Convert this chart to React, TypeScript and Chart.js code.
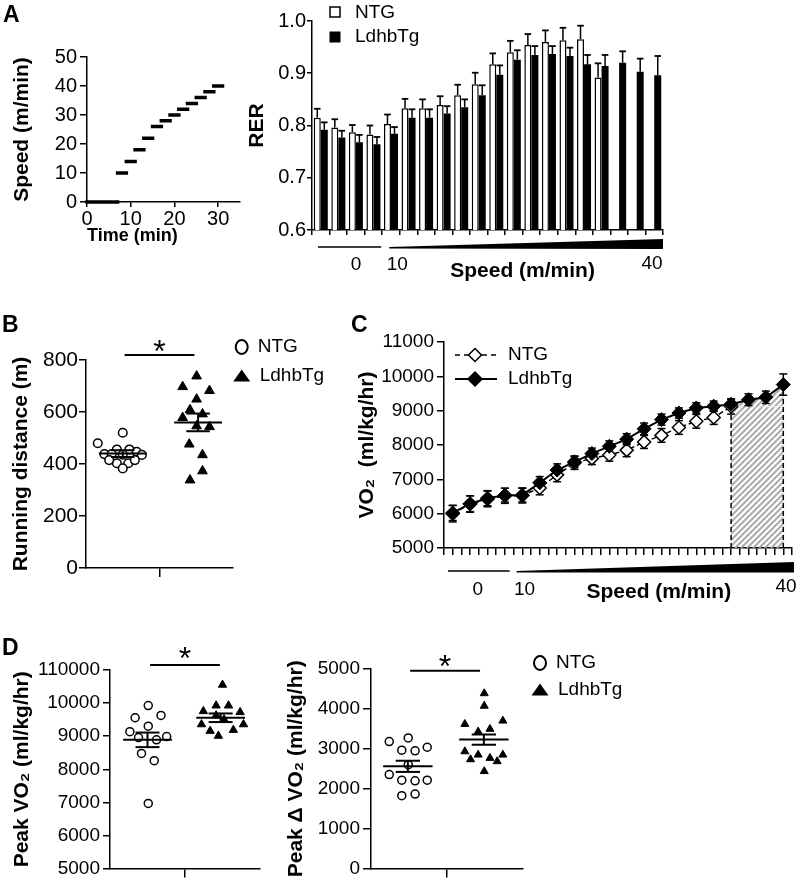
import React, { useEffect, useRef } from 'react';
import { Chart, registerables } from 'chart.js';

Chart.register(...registerables);

const W = 800;
const H = 883;
const FAMILY = "'Liberation Sans', Arial, Helvetica, sans-serif";
Chart.defaults.font.family = FAMILY;
Chart.defaults.color = '#000';
const TITLE_FONT = { family: FAMILY, size: 21, weight: 'bold' as const };

// ---------- Panel A (left): treadmill protocol ----------
const timeTicks = [0, 10, 20, 30];
const speedTicks = [0, 10, 20, 30, 40, 50];
const stageStart = [0, 7, 9, 11, 13, 15, 17, 19, 21, 23, 25, 27, 29];
const stageEnd = [7, 9, 11, 13, 15, 17, 19, 21, 23, 25, 27, 29, 31];
const stageSpeed = [0, 10, 14, 18, 22, 26, 28, 30, 32, 34, 36, 38, 40];

// ---------- Panel A (right): RER ----------
const rerStages = ['R1', 'R2', 'R3', 'R4', 'S1', 'S2', 'S3', 'S4', 'S5', 'S6', 'S7', 'S8', 'S9', 'S10', 'S11', 'S12', 'S13', 'S14', 'S15', 'S16'];
const rerNTG = [0.815, 0.796, 0.787, 0.783, 0.803, 0.833, 0.833, 0.839, 0.858, 0.879, 0.917, 0.94, 0.954, 0.96, 0.963, 0.965, 0.892, null, null, null];
const rerNTGErr = [0.017, 0.016, 0.014, 0.017, 0.018, 0.018, 0.017, 0.017, 0.02, 0.022, 0.021, 0.022, 0.021, 0.022, 0.024, 0.026, 0.027, null, null, null];
const rerTg = [0.792, 0.777, 0.768, 0.764, 0.784, 0.815, 0.815, 0.823, 0.835, 0.858, 0.897, 0.926, 0.935, 0.937, 0.933, 0.917, 0.914, 0.92, 0.903, 0.896];
const rerTgErr = [0.014, 0.013, 0.014, 0.014, 0.013, 0.016, 0.016, 0.014, 0.015, 0.019, 0.018, 0.018, 0.017, 0.015, 0.016, 0.018, 0.021, 0.022, 0.025, 0.037];
const rerTicks = [0.6, 0.7, 0.8, 0.9, 1.0];

// ---------- Panel B: running distance ----------
const distTicks = [0, 200, 400, 600, 800];
const distNTG = [480, 520, 438, 456, 456, 447, 438, 436, 435, 403, 403, 383, 415, 415];
const distNTGX = [0.32, 1.0, 0.5, 0.84, 1.18, 1.38, 0.7, 1.0, 1.52, 0.84, 1.15, 1.0, 1.33, 0.63];
const distTg = [738, 697, 682, 649, 608, 578, 592, 546, 543, 476, 435, 373, 338];
const distTgX = [3.01, 2.63, 3.36, 3.01, 2.83, 2.63, 3.17, 3.01, 3.36, 2.81, 3.17, 3.17, 2.83];
const distGroupX = [1.0, 3.05];
const distMean = [440, 560];
const distSem = [13, 34];

// ---------- Panel C: VO2 during exercise ----------
const vo2Ticks = [5000, 6000, 7000, 8000, 9000, 10000, 11000];
const vo2StageTicks = Array.from({ length: 41 }, (_, i) => i * 0.5);
const vo2NTG = [6000, 6280, 6430, 6520, 6530, 6750, 7130, 7480, 7610, 7710, 7850, 8090, 8280, 8510, 8690, 8800, 9120];
const vo2NTGErr = [240, 240, 230, 220, 220, 200, 200, 190, 180, 180, 190, 190, 200, 200, 200, 200, 220];
const vo2Tg = [6020, 6290, 6450, 6540, 6540, 6900, 7270, 7510, 7750, 7960, 8170, 8470, 8740, 8930, 9080, 9130, 9190, 9320, 9390, 9760];
const vo2TgErr = [220, 230, 220, 200, 200, 180, 180, 170, 160, 160, 160, 170, 160, 150, 150, 150, 150, 170, 180, 310];

// ---------- Panel D: peak VO2 and peak delta VO2 ----------
const peakTicks = [5000, 6000, 7000, 8000, 9000, 10000, 11000];
const peakTickLabels = ['5000', '6000', '7000', '8000', '9000', '10000', '110000'];
const peakNTG = [9925, 9557, 9627, 9137, 9304, 8960, 8990, 8890, 8480, 8260, 6970];
const peakNTGX = [1.02, 0.67, 1.36, 0.53, 1.02, 0.76, 1.51, 1.24, 0.84, 1.18, 1.02];
const peakTg = [10552, 9925, 9925, 9755, 9627, 9725, 9507, 9358, 9358, 9158, 9188, 9010];
const peakTgX = [3.0, 2.83, 3.16, 2.49, 2.83, 3.47, 3.04, 2.44, 3.56, 2.67, 3.29, 2.89];
const peakGroupX = [1.0, 2.95];
const peakMean = [8890, 9557];
const peakSem = [220, 130];

const deltaTicks = [0, 1000, 2000, 3000, 4000, 5000];
const deltaNTG = [3182, 3273, 2967, 2950, 3040, 2603, 2355, 2215, 2200, 2215, 1827, 1867];
const deltaNTGX = [0.48, 0.98, 0.81, 1.16, 1.48, 0.98, 0.48, 0.81, 1.16, 1.48, 0.81, 1.16];
const deltaTg = [4389, 4075, 3620, 3703, 3430, 3496, 2934, 2735, 2851, 2769, 2686, 2851, 2438];
const deltaTgX = [2.98, 2.98, 2.47, 3.47, 2.82, 3.13, 2.47, 2.62, 2.82, 3.13, 3.32, 3.47, 2.98];
const deltaGroupX = [0.97, 2.97];
const deltaMean = [2562, 3231];
const deltaSem = [140, 128];

// ---------- drawing helpers ----------
function seg(ctx: any, x1: number, y1: number, x2: number, y2: number, w = 1.5, color = '#000', dash: number[] = []) {
  ctx.save();
  ctx.beginPath();
  ctx.setLineDash(dash);
  ctx.lineWidth = w;
  ctx.strokeStyle = color;
  ctx.moveTo(x1, y1);
  ctx.lineTo(x2, y2);
  ctx.stroke();
  ctx.restore();
}

function text(ctx: any, s: string, x: number, y: number, size: number, bold = false, align = 'left', baseline = 'middle') {
  ctx.save();
  ctx.font = `${bold ? 'bold ' : ''}${size}px ${FAMILY}`;
  ctx.fillStyle = '#000';
  ctx.textAlign = align;
  ctx.textBaseline = baseline;
  ctx.fillText(s, x, y);
  ctx.restore();
}

function star(ctx: any, x: number, yCenter: number) {
  const size = 32;
  text(ctx, '*', x, yCenter + 0.6 * size, size, false, 'center', 'alphabetic');
}

function diamond(ctx: any, x: number, y: number, r: number, filled: boolean) {
  ctx.save();
  ctx.beginPath();
  ctx.moveTo(x - r, y);
  ctx.lineTo(x, y - r);
  ctx.lineTo(x + r, y);
  ctx.lineTo(x, y + r);
  ctx.closePath();
  ctx.fillStyle = filled ? '#000' : '#fff';
  ctx.fill();
  ctx.lineWidth = 1.5;
  ctx.strokeStyle = '#000';
  ctx.stroke();
  ctx.restore();
}

function scatterLegend(ctx: any, x: number, yNTG: number, yTg: number) {
  ctx.save();
  ctx.beginPath();
  ctx.ellipse(x, yNTG, 6, 7, 0, 0, Math.PI * 2);
  ctx.lineWidth = 2;
  ctx.strokeStyle = '#000';
  ctx.stroke();
  ctx.beginPath();
  ctx.moveTo(x, yTg - 6.5);
  ctx.lineTo(x + 8.5, yTg + 5.5);
  ctx.lineTo(x - 8.5, yTg + 5.5);
  ctx.closePath();
  ctx.fillStyle = '#000';
  ctx.fill();
  ctx.restore();
  text(ctx, 'NTG', x + 16, yNTG, 19);
  text(ctx, 'LdhbTg', x + 18, yTg, 19);
}

// ---------- axis helpers ----------
function frame(right: number, top: number, bottom: number, xH: number) {
  return { padding: { left: 0, top, right: W - right, bottom: H - bottom - xH } };
}

function linAxis(o: any) {
  return {
    type: 'linear',
    position: o.pos,
    min: o.min,
    max: o.max,
    afterBuildTicks: (sc: any) => {
      sc.ticks = o.ticks.map((v: number) => ({ value: v }));
    },
    afterFit: (sc: any) => {
      if (o.pos === 'left') sc.width = o.size;
      else sc.height = o.size;
    },
    border: { display: true, color: '#000', width: 1.5 },
    grid: { display: true, drawOnChartArea: false, drawTicks: true, tickLength: o.tickLen, color: '#000', lineWidth: 1.5 },
    ticks: {
      display: o.labels !== false,
      color: '#000',
      font: { family: FAMILY, size: o.fontSize || 19 },
      padding: o.pad ?? 3,
      callback: o.fmt || ((v: number) => String(v)),
    },
    title: o.title
      ? {
          display: true,
          text: o.title,
          color: '#000',
          font: o.titleFont || TITLE_FONT,
          align: o.titleAlign || 'center',
          padding: o.titlePad,
        }
      : { display: false },
  };
}

const baseOptions = {
  animation: false as const,
  responsive: false,
  events: [] as any[],
  plugins: { legend: { display: false }, tooltip: { enabled: false } },
};

// ---------- chart configs ----------
function configALeft(): any {
  const data = stageSpeed.flatMap((s, i) => [
    { x: stageStart[i], y: s },
    { x: stageEnd[i], y: s },
    { x: stageEnd[i], y: null },
  ]);
  return {
    type: 'line',
    data: {
      datasets: [
        { data, borderColor: '#000', borderWidth: 3.5, borderCapStyle: 'square', pointRadius: 0, spanGaps: false, clip: false },
      ],
    },
    options: {
      ...baseOptions,
      layout: frame(240, 57, 202, 50),
      scales: {
        x: linAxis({ pos: 'bottom', min: 0, max: 35, ticks: timeTicks, tickLen: 5, pad: 0, size: 50, fontSize: 20, title: 'Time (min)', titleAlign: 'start', titleFont: { family: FAMILY, size: 18, weight: 'bold' }, titlePad: { top: 0, bottom: 5 } }),
        y: linAxis({ pos: 'left', min: 0, max: 50, ticks: speedTicks, tickLen: 7, pad: 3, size: 87, fontSize: 20, title: 'Speed (m/min)', titlePad: { top: 9.4, bottom: 0 } }),
      },
    },
    plugins: [
      {
        id: 'panelLetters',
        afterDraw(chart: any) {
          const ctx = chart.ctx;
          text(ctx, 'A', 3, 22, 23, true, 'left', 'alphabetic');
          text(ctx, 'B', 2, 332, 23, true, 'left', 'alphabetic');
          text(ctx, 'C', 351, 332, 23, true, 'left', 'alphabetic');
          text(ctx, 'D', 2, 655, 23, true, 'left', 'alphabetic');
        },
      },
    ],
  };
}

function configARight(): any {
  return {
    type: 'bar',
    data: {
      labels: rerStages,
      datasets: [
        { label: 'NTG', data: rerNTG, backgroundColor: '#fff', borderColor: '#000', borderWidth: 1.5, barPercentage: 1, categoryPercentage: 0.8 },
        { label: 'LdhbTg', data: rerTg, backgroundColor: '#000', borderColor: '#000', borderWidth: 0, barPercentage: 1, categoryPercentage: 0.8 },
      ],
    },
    options: {
      ...baseOptions,
      layout: frame(663, 21, 230, 12),
      scales: {
        x: {
          type: 'category',
          offset: true,
          afterFit: (sc: any) => {
            sc.height = 12;
          },
          border: { display: true, color: '#000', width: 1.5 },
          grid: { display: true, offset: true, drawOnChartArea: false, drawTicks: true, tickLength: 5, color: '#000', lineWidth: 1.5 },
          ticks: { display: false },
        },
        y: linAxis({ pos: 'left', min: 0.6, max: 1.0, ticks: rerTicks, tickLen: 5, pad: 1, size: 312, fontSize: 20, fmt: (v: number) => v.toFixed(1), title: 'RER', titlePad: { top: 244.4, bottom: 0 } }),
      },
    },
    plugins: [
      {
        id: 'rerExtras',
        afterDatasetsDraw(chart: any) {
          const ctx = chart.ctx;
          const ys = chart.scales.y;
          const sets: [number, (number | null)[], (number | null)[]][] = [
            [0, rerNTG, rerNTGErr],
            [1, rerTg, rerTgErr],
          ];
          sets.forEach(([di, vals, errs]) => {
            const meta = chart.getDatasetMeta(di);
            meta.data.forEach((el: any, i: number) => {
              const v = vals[i];
              const e = errs[i];
              if (v == null || e == null) return;
              const yTop = ys.getPixelForValue(v + e);
              seg(ctx, el.x, el.y, el.x, yTop, 1.5);
              seg(ctx, el.x - 3.3, yTop, el.x + 3.3, yTop, 1.8);
            });
          });
        },
        afterDraw(chart: any) {
          const ctx = chart.ctx;
          const xs = chart.scales.x;
          const n = rerStages.length;
          const cw = (xs.right - xs.left) / n;
          const b = (k: number) => xs.left + k * cw;
          const base = xs.top;
          // rest bar and speed wedge
          seg(ctx, b(0) + 6, base + 17, b(4) - 1, base + 17, 1.5);
          ctx.save();
          ctx.beginPath();
          ctx.moveTo(b(4) + 7, base + 17);
          ctx.lineTo(b(n), base + 9);
          ctx.lineTo(b(n), base + 19);
          ctx.lineTo(b(4) + 7, base + 18.5);
          ctx.closePath();
          ctx.fillStyle = '#000';
          ctx.fill();
          ctx.restore();
          text(ctx, '0', b(2) + 9, base + 35, 19, false, 'center');
          text(ctx, '10', b(4) + 15, base + 35, 19, false, 'center');
          text(ctx, 'Speed (m/min)', b(12), base + 41, 21, true, 'center');
          text(ctx, '40', b(n) - 11, base + 34, 19, false, 'center');
          // legend
          ctx.save();
          ctx.lineWidth = 1.5;
          ctx.strokeStyle = '#000';
          ctx.fillStyle = '#fff';
          ctx.fillRect(330, 7, 10, 10);
          ctx.strokeRect(330, 7, 10, 10);
          ctx.fillStyle = '#000';
          ctx.fillRect(329.5, 31.5, 11, 11);
          ctx.restore();
          text(ctx, 'NTG', 355, 13, 19);
          text(ctx, 'LdhbTg', 355, 37, 19);
        },
      },
    ],
  };
}

function statsPlugin(id: string, groupX: number[], means: number[], sems: number[], sig: any, legend?: any) {
  return {
    id,
    afterDatasetsDraw(chart: any) {
      const ctx = chart.ctx;
      const xs = chart.scales.x;
      const ys = chart.scales.y;
      const unit = xs.getPixelForValue(1) - xs.getPixelForValue(0);
      groupX.forEach((gx, i) => {
        const cx = xs.getPixelForValue(gx);
        const ym = ys.getPixelForValue(means[i]);
        const yh = ys.getPixelForValue(means[i] + sems[i]);
        const yl = ys.getPixelForValue(means[i] - sems[i]);
        seg(ctx, cx - 0.65 * unit, ym, cx + 0.65 * unit, ym, 2);
        seg(ctx, cx, yh, cx, yl, 2);
        seg(ctx, cx - 0.32 * unit, yh, cx + 0.32 * unit, yh, 2);
        seg(ctx, cx - 0.32 * unit, yl, cx + 0.32 * unit, yl, 2);
      });
      const y = ys.getPixelForValue(sig.y);
      seg(ctx, xs.getPixelForValue(sig.x1), y, xs.getPixelForValue(sig.x2), y, 2);
      star(ctx, xs.getPixelForValue(sig.starX), ys.getPixelForValue(sig.starY));
      if (legend) scatterLegend(ctx, legend.x, legend.yNTG, legend.yTg);
    },
  };
}

function scatterDatasets(nx: number[], ny: number[], tx: number[], ty: number[], rc: number, rt: number) {
  return [
    {
      label: 'NTG',
      data: ny.map((v, i) => ({ x: nx[i], y: v })),
      pointStyle: 'circle',
      pointRadius: rc,
      pointBackgroundColor: '#fff',
      pointBorderColor: '#000',
      pointBorderWidth: 1.5,
      clip: false,
    },
    {
      label: 'LdhbTg',
      data: ty.map((v, i) => ({ x: tx[i], y: v })),
      pointStyle: 'triangle',
      pointRadius: rt,
      pointBackgroundColor: '#000',
      pointBorderColor: '#000',
      pointBorderWidth: 1,
      clip: false,
    },
  ];
}

function configB(): any {
  return {
    type: 'scatter',
    data: { datasets: scatterDatasets(distNTGX, distNTG, distTgX, distTg, 4.3, 5.6) },
    options: {
      ...baseOptions,
      layout: frame(233, 360, 568, 20),
      scales: {
        x: linAxis({ pos: 'bottom', min: 0, max: 4, ticks: [2], tickLen: 9, labels: false, size: 20 }),
        y: linAxis({ pos: 'left', min: 0, max: 800, ticks: distTicks, tickLen: 7, pad: 1, size: 86, fontSize: 21, title: 'Running distance (m)', titlePad: { top: 8.4, bottom: 0 } }),
      },
    },
    plugins: [statsPlugin('statsB', distGroupX, distMean, distSem, { x1: 1.05, x2: 2.95, y: 819, starX: 2, starY: 865 }, { x: 241.7, yNTG: 347, yTg: 376 })],
  };
}

function configC(): any {
  return {
    type: 'line',
    data: {
      datasets: [
        {
          label: 'LdhbTg',
          data: vo2Tg.map((v, i) => ({ x: i + 0.5, y: v })),
          borderColor: '#000',
          borderWidth: 2,
          pointStyle: 'rectRot',
          pointRadius: 7,
          pointBackgroundColor: '#000',
          pointBorderColor: '#000',
          pointBorderWidth: 1,
          clip: false,
        },
        {
          label: 'NTG',
          data: vo2NTG.map((v, i) => ({ x: i + 0.5, y: v })),
          borderColor: '#000',
          borderWidth: 1.5,
          borderDash: [5, 3],
          pointStyle: 'rectRot',
          pointRadius: 6.5,
          pointBackgroundColor: '#fff',
          pointBorderColor: '#000',
          pointBorderWidth: 1.5,
          clip: false,
        },
      ],
    },
    options: {
      ...baseOptions,
      layout: frame(795, 342, 548, 12),
      scales: {
        x: linAxis({ pos: 'bottom', min: 0, max: 20, ticks: vo2StageTicks, tickLen: 7, labels: false, size: 12 }),
        y: linAxis({ pos: 'left', min: 5000, max: 11000, ticks: vo2Ticks, tickLen: 7, pad: 3, size: 444, title: 'VO\u2082  (ml/kg/hr)', titlePad: { top: 354.4, bottom: 0 } }),
      },
    },
    plugins: [
      {
        id: 'vo2Extras',
        beforeDatasetsDraw(chart: any) {
          const ctx = chart.ctx;
          const xs = chart.scales.x;
          const ys = chart.scales.y;
          const bottom = ys.bottom;
          const first = vo2NTG.length - 1;
          const last = vo2Tg.length - 1;
          const xa = xs.getPixelForValue(first + 0.5);
          const xb = xs.getPixelForValue(last + 0.5);
          // hatched region under the LdhbTg curve where NTG stopped
          ctx.save();
          ctx.beginPath();
          ctx.moveTo(xa, bottom);
          for (let i = first; i <= last; i++) ctx.lineTo(xs.getPixelForValue(i + 0.5), ys.getPixelForValue(vo2Tg[i]));
          ctx.lineTo(xb, bottom);
          ctx.closePath();
          ctx.clip();
          ctx.strokeStyle = '#a8a8a8';
          ctx.lineWidth = 2;
          for (let d = -260; d < 120; d += 6) {
            ctx.beginPath();
            ctx.moveTo(xa + d, bottom);
            ctx.lineTo(xa + d + 200, bottom - 200);
            ctx.stroke();
          }
          ctx.restore();
          const yN = ys.getPixelForValue(vo2NTG[first]);
          seg(ctx, xa, yN, xb, yN, 1.5, '#e6e6e6', [4, 3]);
          seg(ctx, xa, bottom, xa, ys.getPixelForValue(vo2Tg[first]), 1.5, '#000', [5, 3]);
          seg(ctx, xb, bottom, xb, ys.getPixelForValue(vo2Tg[last]), 1.5, '#000', [5, 3]);
          // error bars
          const sets: [number[], number[]][] = [
            [vo2NTG, vo2NTGErr],
            [vo2Tg, vo2TgErr],
          ];
          sets.forEach(([vals, errs]) => {
            vals.forEach((v, i) => {
              const x = xs.getPixelForValue(i + 0.5);
              const yh = ys.getPixelForValue(v + errs[i]);
              const yl = ys.getPixelForValue(v - errs[i]);
              seg(ctx, x, yh, x, yl, 1.5);
              seg(ctx, x - 4, yh, x + 4, yh, 1.5);
              seg(ctx, x - 4, yl, x + 4, yl, 1.5);
            });
          });
        },
        afterDraw(chart: any) {
          const ctx = chart.ctx;
          const xs = chart.scales.x;
          const n = vo2Tg.length;
          const cw = (xs.right - xs.left) / n;
          const b = (k: number) => xs.left + k * cw;
          const base = xs.top;
          seg(ctx, b(0) + 4, base + 23, b(4) - 4, base + 23, 1.5);
          ctx.save();
          ctx.beginPath();
          ctx.moveTo(b(4) + 3, base + 23);
          ctx.lineTo(b(n) + 2, base + 14);
          ctx.lineTo(b(n) + 2, base + 24.5);
          ctx.lineTo(b(4) + 3, base + 24.5);
          ctx.closePath();
          ctx.fillStyle = '#000';
          ctx.fill();
          ctx.restore();
          text(ctx, '0', b(2) - 1, base + 42, 19, false, 'center');
          text(ctx, '10', b(4) + 11, base + 42, 19, false, 'center');
          text(ctx, 'Speed (m/min)', b(12) + 6, base + 44, 21, true, 'center');
          text(ctx, '40', b(n) - 6, base + 39, 19, false, 'center');
          // legend
          seg(ctx, 455, 355, 497, 355, 1.5, '#000', [5, 4]);
          diamond(ctx, 475, 355, 6.5, false);
          text(ctx, 'NTG', 508, 355, 19);
          seg(ctx, 455, 379, 497, 379, 2);
          diamond(ctx, 475, 379, 7, true);
          text(ctx, 'LdhbTg', 508, 379, 19);
        },
      },
    ],
  };
}

function configDLeft(): any {
  return {
    type: 'scatter',
    data: { datasets: scatterDatasets(peakNTGX, peakNTG, peakTgX, peakTg, 4, 4.8) },
    options: {
      ...baseOptions,
      layout: frame(260, 670, 871, 12),
      scales: {
        x: linAxis({ pos: 'bottom', min: 0, max: 4, ticks: [2], tickLen: 9, labels: false, size: 12 }),
        y: linAxis({ pos: 'left', min: 5000, max: 11000, ticks: peakTicks, tickLen: 7, pad: 3, size: 110, fmt: (_v: number, i: number) => peakTickLabels[i], title: 'Peak VO\u2082 (ml/kg/hr)', titlePad: { top: 9.4, bottom: 0 } }),
      },
    },
    plugins: [statsPlugin('statsDL', peakGroupX, peakMean, peakSem, { x1: 1.07, x2: 2.93, y: 11149, starX: 2, starY: 11597 })],
  };
}

function configDRight(): any {
  return {
    type: 'scatter',
    data: { datasets: scatterDatasets(deltaNTGX, deltaNTG, deltaTgX, deltaTg, 4, 4.6) },
    options: {
      ...baseOptions,
      layout: frame(523, 669, 871, 12),
      scales: {
        x: linAxis({ pos: 'bottom', min: 0, max: 4, ticks: [2], tickLen: 9, labels: false, size: 12 }),
        y: linAxis({ pos: 'left', min: 0, max: 5000, ticks: deltaTicks, tickLen: 8, pad: 3, size: 371, title: 'Peak \u0394 VO\u2082 (ml/kg/hr)', titlePad: { top: 283.4, bottom: 0 } }),
      },
    },
    plugins: [statsPlugin('statsDR', deltaGroupX, deltaMean, deltaSem, { x1: 1.03, x2: 2.87, y: 4959, starX: 1.95, starY: 5283 }, { x: 540, yNTG: 663, yTg: 690 })],
  };
}

const builders = [configALeft, configARight, configB, configC, configDLeft, configDRight];

export default function App() {
  const refs = [useRef<HTMLCanvasElement>(null), useRef<HTMLCanvasElement>(null), useRef<HTMLCanvasElement>(null), useRef<HTMLCanvasElement>(null), useRef<HTMLCanvasElement>(null), useRef<HTMLCanvasElement>(null)];

  useEffect(() => {
    const charts = refs.map((r, i) => new Chart(r.current as HTMLCanvasElement, builders[i]()));
    return () => charts.forEach((c) => c.destroy());
  }, []);

  return (
    <div style={{ position: 'absolute', left: 0, top: 0, width: W, height: H, overflow: 'hidden', background: '#fff' }}>
      {refs.map((r, i) => (
        <canvas key={i} ref={r} width={W} height={H} style={{ position: 'absolute', left: 0, top: 0, width: W, height: H }} />
      ))}
    </div>
  );
}
